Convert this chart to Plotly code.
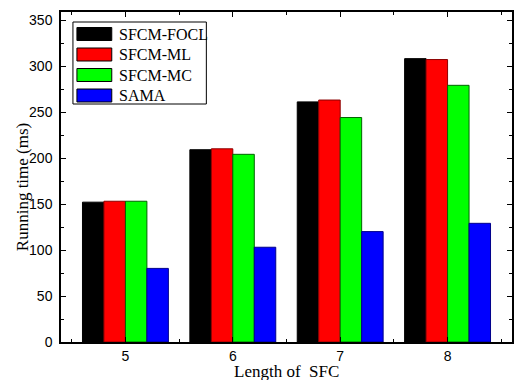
import plotly.graph_objects as go

lengths = [5, 6, 7, 8]
series_names = ["SFCM-FOCL", "SFCM-ML", "SFCM-MC", "SAMA"]
focl = [152, 209, 261, 308]
ml = [153, 210, 263, 307]
mc = [153, 204, 244, 279]
sama = [80, 103, 120, 129]
y_ticks = [0, 50, 100, 150, 200, 250, 300, 350]

values = [focl, ml, mc, sama]
fills = ["#000000", "#ff0000", "#00ff00", "#0000ff"]
edges = ["#000000", "#8b0000", "#006400", "#00008b"]

W, H = 516, 380
L, R, T, B = 61, 514, 12, 342

def px(x):
    return (x - L) / (R - L)

def py(y):
    return (B - y) / (B - T)

fig = go.Figure()
for name, vals, fc, ec in zip(series_names, values, fills, edges):
    fig.add_trace(go.Bar(x=lengths, y=vals, name=name, marker=dict(color=fc, line=dict(color=ec, width=1)),
                         showlegend=False))

shapes = []
annotations = []
# custom legend
shapes.append(dict(type="rect", xref="paper", yref="paper", x0=px(73), x1=px(207), y0=py(104), y1=py(22),
                   line=dict(color="#000000", width=1), fillcolor="white", layer="above"))
row_centers = [34, 54.5, 75, 95.5]
for name, fc, ec, cy in zip(series_names, fills, edges, row_centers):
    shapes.append(dict(type="rect", xref="paper", yref="paper", x0=px(77), x1=px(112), y0=py(cy + 6.5), y1=py(cy - 6.5),
                       line=dict(color="#000000", width=1), fillcolor=fc, layer="above"))
    annotations.append(dict(text=name, xref="paper", yref="paper", x=px(117), y=py(cy), xanchor="left", yanchor="middle",
                            showarrow=False, font=dict(family="Liberation Serif", size=16, color="#000000")))

annotations.append(dict(text="Length of  SFC", xref="paper", yref="paper", x=px(288), y=py(371), xanchor="center",
                        yanchor="middle", showarrow=False, font=dict(family="Liberation Serif", size=17, color="#000000")))
annotations.append(dict(text="Running time (ms)", xref="paper", yref="paper", x=px(22), y=py(187), xanchor="center",
                        yanchor="middle", textangle=-90, showarrow=False,
                        font=dict(family="Liberation Serif", size=17, color="#000000")))

fig.update_layout(
    width=W, height=H,
    margin=dict(l=L, r=W - R, t=T, b=H - B),
    paper_bgcolor="white", plot_bgcolor="white",
    barmode="group", bargap=0.2, bargroupgap=0,
    shapes=shapes, annotations=annotations,
    font=dict(family="Liberation Sans", size=14, color="#000000"),
)
fig.update_xaxes(range=[4.4, 8.6], tickvals=lengths, ticks="inside", ticklen=5, tickwidth=1, tickcolor="black",
                 showline=True, linecolor="black", linewidth=1.5, mirror="ticks", showgrid=False, zeroline=False,
                 minor=dict(tickvals=[4.5, 5.5, 6.5, 7.5, 8.5], ticks="inside", ticklen=3, tickcolor="black", showgrid=False),
                 tickfont=dict(family="Liberation Sans", size=14))
fig.update_yaxes(range=[0, 358.7], tickvals=y_ticks, ticks="inside", ticklen=5, tickwidth=1, tickcolor="black",
                 showline=True, linecolor="black", linewidth=1.5, mirror="ticks", showgrid=False, zeroline=False,
                 minor=dict(tickvals=[25, 75, 125, 175, 225, 275, 325], ticks="inside", ticklen=3, tickcolor="black", showgrid=False),
                 tickfont=dict(family="Liberation Sans", size=14), ticklabelstandoff=4)

fig.write_html("out.html")
